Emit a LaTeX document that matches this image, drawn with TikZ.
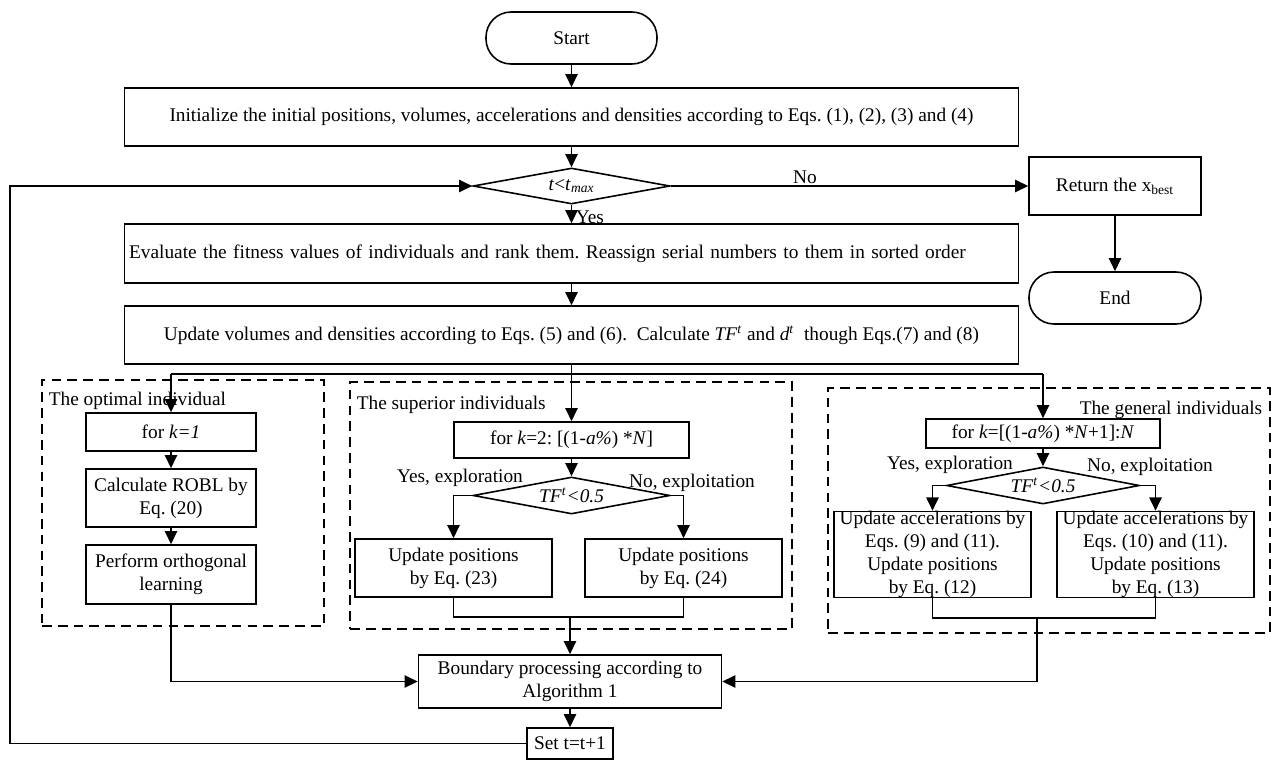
\documentclass[tikz,border=0pt]{standalone}
\usepackage{fontspec}
\setmainfont{Liberation Serif}
\usetikzlibrary{shapes,arrows.meta}

\begin{document}
\frenchspacing
\begin{tikzpicture}
    [x=0.02cm,y=-0.02cm,line width=0.9pt,>={Triangle[length=7.5pt,width=7pt]},
     every node/.style={inner sep=0pt,align=center,font=\fontsize{11}{13}\selectfont},
     flowbox/.style={draw,rectangle,minimum width=#1},
     flowbox/.default=3.4cm,
     termbox/.style={draw,rectangle,rounded corners=0.5cm,minimum width=#1,minimum height=1.04cm},
     decbox/.style={draw,diamond,aspect=5,minimum width=#1,minimum height=0.74cm},
     grpbox/.style={draw,dash pattern=on 5.5pt off 3.5pt,minimum width=8.84cm,minimum height=#1}]
  \useasboundingbox (0,0) rectangle (1271,761);

  \node[grpbox=4.92cm,minimum width=5.64cm] (optgrp) at (183,503) {};
  \node[grpbox=4.94cm] (supgrp) at (571,505.5) {};
  \node[grpbox=4.9cm] (gengrp) at (1049,510.5) {};
  \node[anchor=west] (optlbl) at (48,401) {The optimal individual};
  \node[anchor=west] (suplbl) at (356,405) {The superior individuals};
  \node[anchor=east] (genlbl) at (1263,410) {The general individuals};

  \node[termbox=3.42cm] (start) at (571.5,38) {Start};
  \node[flowbox=17.88cm,minimum height=1.16cm] (init) at (571.5,117)
    {Initialize the initial positions, volumes, accelerations and densities according to Eqs. (1), (2), (3) and (4)};
  \node[decbox=3.94cm,minimum height=0.72cm] (cond) at (571.5,186) {\textit{t}<\textit{t}\textsubscript{\textit{max}}};
  \node[flowbox=3.44cm,minimum height=1.16cm] (ret) at (1115,186) {Return the x\textsubscript{best}};
  \node[termbox=3.44cm] (endn) at (1115,298) {End};
  \node[flowbox=17.88cm,minimum height=1.18cm,text width=17.7cm,align=left] (eval) at (571.5,253.5)
    {Evaluate the fitness values of individuals and rank them. Reassign serial numbers to them in sorted order};
  \node[flowbox=17.88cm,minimum height=1.16cm] (upd) at (571.5,335)
    {Update volumes and densities according to Eqs. (5) and (6).\ \ Calculate \textit{TF}\textsuperscript{\textit{t}} and \textit{d}\textsuperscript{\textit{t}}\ \ though Eqs.(7) and (8)};

  \node[flowbox,minimum height=0.76cm] (ofor) at (171,432) {for \textit{k=1}};
  \node[flowbox,minimum height=1.16cm] (robl) at (171,498) {Calculate ROBL by\\Eq. (20)};
  \node[flowbox,minimum height=1.18cm] (orth) at (171,574.5) {Perform orthogonal\\learning};

  \node[flowbox=4.7cm,minimum height=0.72cm] (sfor) at (571.5,440) {for \textit{k}=2: [(1-\textit{a\%}) *\textit{N}]};
  \node[decbox=3.94cm] (sdec) at (571.5,495.5) {\textit{TF}\textsuperscript{\textit{t}}\textit{<0.5}};
  \node (syes) at (460,478) {Yes, exploration};
  \node (sno) at (692,483) {No, exploitation};
  \node[flowbox=3.94cm,minimum height=1.16cm] (supa) at (453.5,568) {Update positions\\by Eq. (23)};
  \node[flowbox=3.94cm,minimum height=1.16cm] (supb) at (683.5,568) {Update positions\\by Eq. (24)};

  \node[flowbox=4.68cm,minimum height=0.58cm] (gfor) at (1043,433.5) {for \textit{k}=[(1-\textit{a\%}) *\textit{N}+1]:\textit{N}};
  \node[decbox=3.86cm] (gdec) at (1043,485.5) {\textit{TF}\textsuperscript{\textit{t}}\textit{<0.5}};
  \node (gyes) at (950,465) {Yes, exploration};
  \node (gno) at (1150,467) {No, exploitation};
  \node[flowbox=3.94cm,minimum height=1.7cm] (gupa) at (932.5,554.5)
    {Update accelerations by\\Eqs. (9) and (11).\\Update positions\\by Eq. (12)};
  \node[flowbox=3.94cm,minimum height=1.7cm] (gupb) at (1155.5,554.5)
    {Update accelerations by\\Eqs. (10) and (11).\\Update positions\\by Eq. (13)};

  \node[flowbox=6.06cm,minimum height=1.06cm] (bnd) at (570,681.5) {Boundary processing according to\\Algorithm 1};
  \node[flowbox=1.72cm,minimum height=0.62cm] (setn) at (570,743.5) {Set t=t+1};

  \coordinate (split) at (571.5,374);
  \coordinate (sjoin) at (570,617);
  \coordinate (gjoin) at (1037,618);
  \coordinate (back) at (10,186);

  \draw[->] (start) -- (init);
  \draw[->] (init) -- (cond);
  \draw[->] (cond) -- (eval);
  \node[anchor=west] (yes) at (575,217) {Yes};
  \draw[->] (eval) -- (upd);
  \draw[->] (cond) -- (ret);
  \node (no) at (805,177) {No};
  \draw[->] (upd) -- (sfor);
  \draw (split -| ofor) -- (split -| gfor);
  \draw[->] (split -| ofor) -- (ofor);
  \draw[->] (split -| gfor) -- (gfor);

  \foreach \from/\to in {ret/endn, ofor/robl, robl/orth, sfor/sdec, gfor/gdec, bnd/setn}
    \draw[->] (\from) -- (\to);

  \draw[->] (sdec.west) -| (supa);
  \draw[->] (sdec.east) -| (supb);
  \draw[->] (gdec.west) -| (gupa);
  \draw[->] (gdec.east) -| (gupb);

  \draw (supa) |- (sjoin) -| (supb);
  \draw (gupa) |- (gjoin) -| (gupb);
  \draw[->] (sjoin) -- (bnd);
  \draw[->] (gjoin) |- (bnd);
  \draw[->] (orth) |- (bnd);
  \draw[->] (setn) -| (back) -- (cond);
\end{tikzpicture}
\end{document}
